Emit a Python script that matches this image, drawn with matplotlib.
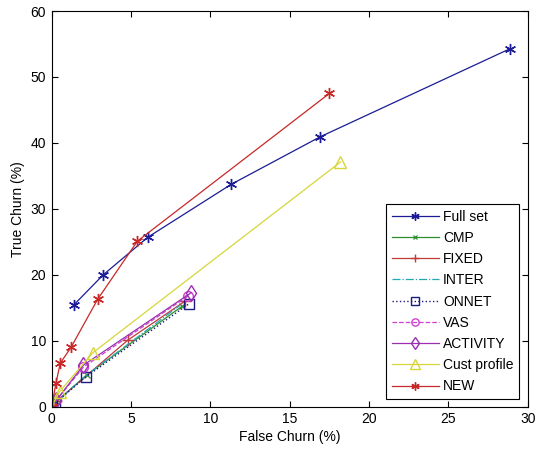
import matplotlib
matplotlib.use("Agg")
import matplotlib.pyplot as plt

plt.rcParams['font.family'] = ['Liberation Sans', 'DejaVu Sans']

series_names = ["Full set", "CMP", "FIXED", "INTER", "ONNET", "VAS", "ACTIVITY", "Cust profile", "NEW"]

full_x = [1.38, 3.25, 6.06, 11.3, 16.9, 28.9]
full_y = [15.4, 20.0, 25.7, 33.7, 40.9, 54.3]

cmp_x = [0.0, 0.3, 2.2, 8.2]
cmp_y = [0.0, 0.8, 4.8, 15.2]

fixed_x = [0.0, 0.3, 4.8, 8.4]
fixed_y = [0.0, 0.8, 10.1, 16.0]

inter_x = [0.0, 0.3, 2.1, 8.1]
inter_y = [0.0, 0.7, 4.6, 15.4]

onnet_x = [0.0, 0.2, 2.14, 8.65]
onnet_y = [0.0, 0.5, 4.5, 15.6]

vas_x = [0.0, 0.3, 2.0, 8.6]
vas_y = [0.0, 1.0, 6.0, 16.8]

act_x = [0.0, 0.3, 2.0, 8.8]
act_y = [0.0, 1.0, 6.3, 17.3]

cust_x = [0.0, 0.5, 2.6, 18.2]
cust_y = [0.0, 2.3, 8.2, 37.1]

new_x = [0.0, 0.27, 0.54, 1.22, 2.9, 5.4, 17.5]
new_y = [0.0, 3.6, 6.6, 9.0, 16.3, 25.1, 47.5]

xticks = [0, 5, 10, 15, 20, 25, 30]
yticks = [0, 10, 20, 30, 40, 50, 60]

ast = (6, 2, 0)

fig = plt.figure(figsize=(5.35, 4.51), dpi=100)
ax = fig.add_axes([0.0966, 0.0982, 0.8898, 0.8774])

ax.plot(full_x, full_y, color='#1c1c96', lw=0.9, marker=ast, ms=8, mew=1.0, label=series_names[0])
ax.plot(cmp_x, cmp_y, color='#2f8f2f', lw=0.9, marker='x', ms=4, mew=0.9, label=series_names[1])
ax.plot(fixed_x, fixed_y, color='#c03a3a', lw=0.9, marker='+', ms=8, mew=1.0, label=series_names[2])
ax.plot(inter_x, inter_y, color='#22a8b0', lw=0.9, ls='-.', label=series_names[3])
ax.plot(onnet_x, onnet_y, color='#1c1c80', lw=1.0, ls=':', marker='s', ms=7, mfc='none', mew=1.0, label=series_names[4])
ax.plot(vas_x, vas_y, color='#d040d0', lw=0.9, ls='--', marker='o', ms=7, mfc='none', mew=1.0, label=series_names[5])
ax.plot(act_x, act_y, color='#9a30b0', lw=0.9, marker='d', ms=8, mfc='none', mew=1.0, label=series_names[6])
ax.plot(cust_x, cust_y, color='#d6d63a', lw=0.9, marker='^', ms=9, mfc='none', mew=1.0, label=series_names[7])
ax.plot(new_x, new_y, color='#c82828', lw=0.9, marker=ast, ms=8, mew=1.0, label=series_names[8])

ax.set_xlim(0, 30)
ax.set_ylim(0, 60)
ax.set_xticks(xticks)
ax.set_yticks(yticks)
ax.tick_params(direction='in', top=True, right=True, length=4, labelsize=10, width=0.8, pad=4)
for s in ax.spines.values():
    s.set_linewidth(0.8)
ax.set_xlabel("False Churn (%)", fontsize=10, labelpad=3)
ax.set_ylabel("True Churn (%)", fontsize=10, labelpad=4)

leg = ax.legend(loc='lower right', bbox_to_anchor=(0.982, 0.0195), fontsize=10,
                handlelength=3.4, handletextpad=0.3, labelspacing=0.52, markerscale=0.75,
                borderpad=0.4, frameon=True, fancybox=False, framealpha=1, borderaxespad=0)
leg.get_frame().set_edgecolor('black')
leg.get_frame().set_linewidth(0.8)

fig.savefig("out.png", dpi=100)
